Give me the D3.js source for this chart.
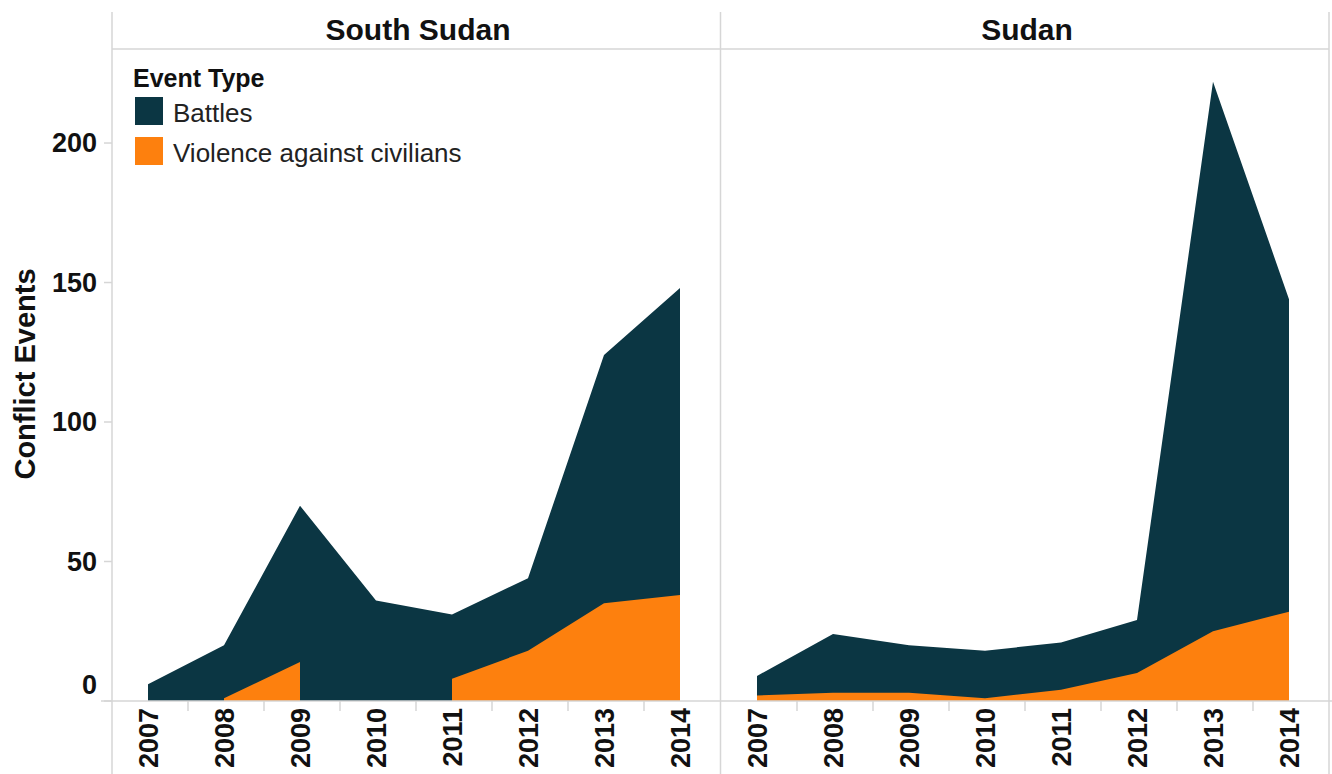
<!DOCTYPE html>
<html>
<head>
<meta charset="utf-8">
<script src="https://cdn.jsdelivr.net/npm/d3@7"></script>
<style>
  html, body { margin: 0; padding: 0; background: #fff; }
  svg { display: block; font-family: "Liberation Sans", Arial, sans-serif; }
</style>
</head>
<body>
<svg id="chart" width="1332" height="774"></svg>
<script>
// ---- Data ----
const years = ["2007", "2008", "2009", "2010", "2011", "2012", "2013", "2014"];
const countries = ["South Sudan", "Sudan"];
const eventTypes = ["Battles", "Violence against civilians"];
const southSudanBattles = [6, 19, 56, 36, 23, 26, 89, 110];
const southSudanViolence = [null, 1, 14, null, 8, 18, 35, 38];
const sudanBattles = [7, 21, 17, 17, 17, 19, 197, 112];
const sudanViolence = [2, 3, 3, 1, 4, 10, 25, 32];
const yTicks = [0, 50, 100, 150, 200];
const yTitle = "Conflict Events";
const legendTitle = "Event Type";

const seriesByCountry = {
  "South Sudan": { battles: southSudanBattles, violence: southSudanViolence },
  "Sudan": { battles: sudanBattles, violence: sudanViolence }
};

// ---- Layout ----
const colors = { "Battles": "#0b3643", "Violence against civilians": "#fd800e" };
const gridColor = "#d6d6d6";
const panelLeft = [112, 721];
const panelWidth = 608;
const topY = 12, headerY = 49, baseY = 701, bottomY = 774;

const svg = d3.select("#chart");

const y = d3.scaleLinear().domain([0, 233.7]).range([baseY, headerY]);

// frame lines
const frame = svg.append("g").attr("stroke", gridColor).attr("stroke-width", 1.5).attr("fill", "none");
[112, 720.5, 1329].forEach(x => {
  frame.append("line").attr("x1", x).attr("x2", x).attr("y1", topY).attr("y2", bottomY);
});
frame.append("line").attr("x1", 112).attr("x2", 1329).attr("y1", headerY).attr("y2", headerY);

// y axis ticks & labels
const yAxisG = svg.append("g");
yTicks.forEach(v => {
  yAxisG.append("line").attr("x1", 104).attr("x2", 112).attr("y1", y(v)).attr("y2", y(v))
    .attr("stroke", gridColor).attr("stroke-width", 1.5);
  yAxisG.append("text")
    .attr("x", 97).attr("y", y(v) + (v === 0 ? -16 : 0)).attr("dy", "0.35em")
    .attr("text-anchor", "end").attr("font-size", 27).attr("font-weight", "bold").attr("fill", "#111")
    .text(v);
});
svg.append("text")
  .attr("transform", `translate(35,${(268 + 480) / 2}) rotate(-90)`)
  .attr("text-anchor", "middle").attr("font-size", 29).attr("font-weight", "bold").attr("fill", "#111")
  .text(yTitle);

// panels
countries.forEach((c, i) => {
  const x0 = panelLeft[i];
  const x = d3.scaleBand().domain(years).range([x0, x0 + panelWidth]).padding(0);
  const cx = yr => x(yr) + x.bandwidth() / 2 - 2;
  const s = seriesByCountry[c];
  const rows = years.map((yr, k) => ({
    year: yr,
    v: s.violence[k],
    total: s.battles[k] + (s.violence[k] == null ? 0 : s.violence[k])
  }));

  const g = svg.append("g");
  // Battles (stacked on top of violence)
  g.append("path")
    .datum(rows)
    .attr("fill", colors["Battles"])
    .attr("d", d3.area().x(d => cx(d.year)).y0(y(0)).y1(d => y(d.total)));
  // Violence against civilians
  g.append("path")
    .datum(rows)
    .attr("fill", colors["Violence against civilians"])
    .attr("d", d3.area().defined(d => d.v != null).x(d => cx(d.year)).y0(y(0)).y1(d => y(d.v)));

  // header
  svg.append("text")
    .attr("x", x0 + panelWidth / 2 + 2).attr("y", 40)
    .attr("text-anchor", "middle").attr("font-size", 30).attr("font-weight", "bold").attr("fill", "#111")
    .text(c);

  // x band separators
  years.slice(1).forEach(yr => {
    svg.append("line").attr("x1", x(yr)).attr("x2", x(yr)).attr("y1", baseY).attr("y2", baseY + 10)
      .attr("stroke", gridColor).attr("stroke-width", 1.5);
  });
  // x labels
  years.forEach(yr => {
    svg.append("text")
      .attr("transform", `translate(${cx(yr)},${baseY + 7}) rotate(-90)`)
      .attr("dy", "0.36em")
      .attr("text-anchor", "end").attr("font-size", 27).attr("font-weight", "bold").attr("fill", "#111")
      .text(yr);
  });
});

// x axis baseline
svg.append("line").attr("x1", 101).attr("x2", 1332).attr("y1", baseY).attr("y2", baseY)
  .attr("stroke", gridColor).attr("stroke-width", 1.5);

// legend
const lg = svg.append("g");
lg.append("text").attr("x", 133).attr("y", 87)
  .attr("font-size", 25).attr("font-weight", "bold").attr("fill", "#111").text(legendTitle);
eventTypes.forEach((t, k) => {
  const top = 97 + k * 40;
  lg.append("rect").attr("x", 135).attr("y", top).attr("width", 28).attr("height", 28)
    .attr("fill", colors[t]);
  lg.append("text").attr("x", 173).attr("y", top + 25)
    .attr("font-size", 26).attr("fill", "#222").text(t);
});
</script>
</body>
</html>
